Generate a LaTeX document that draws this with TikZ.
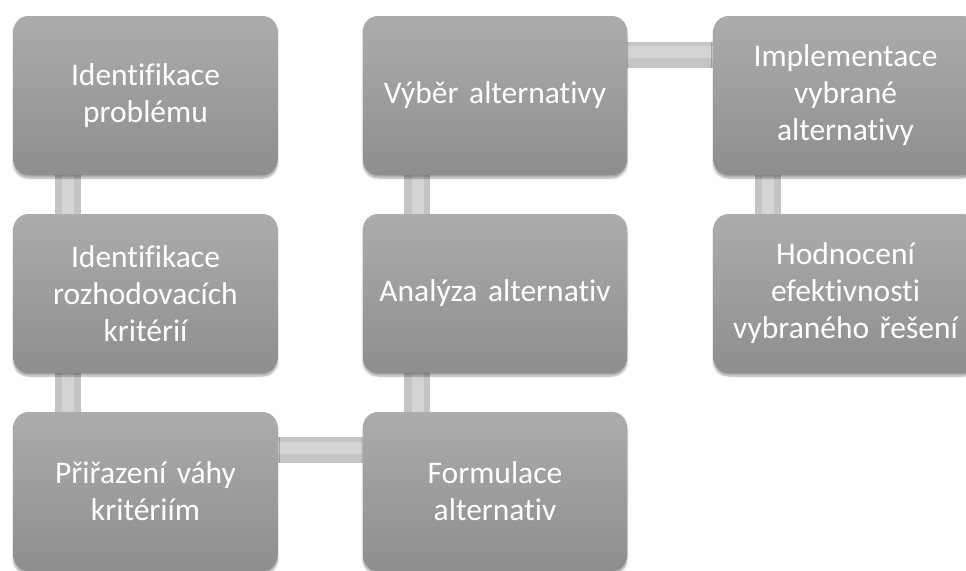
\documentclass[tikz,border=0pt]{standalone}
\usepackage{fontspec}
\setmainfont{Carlito}[Ligatures=CommonOff]
\usetikzlibrary{shadows.blur,backgrounds}
\definecolor{boxtop}{RGB}{172,172,172}
\definecolor{boxbot}{RGB}{142,142,142}
\definecolor{barfill}{RGB}{196,196,196}
\definecolor{barlight}{RGB}{212,212,212}

\begin{document}
\begin{tikzpicture}[x=1pt,y=-1pt,
  stage/.style={rounded corners=15pt,top color=boxtop,bottom color=boxbot,
    minimum width=264pt,minimum height=159pt,text width=250pt,align=center,
    text=white,font=\fontsize{31.5}{37}\selectfont,
    blur shadow={shadow xshift=0pt,shadow yshift=-3pt,shadow blur steps=6,shadow opacity=35}},
  bar/.style={line width=26pt,barfill},
  barhi/.style={line width=12pt,barlight}]
\clip (0,0) rectangle (966,570);
% left column
\node[stage] (ident) at (145.5,95.5) {Identifikace\\problému};
\node[stage] (krit) at (145.5,293.5) {Identifikace\\rozhodovacích\\kritérií};
\node[stage] (vahy) at (145.5,491.5) {Přiřazení váhy\\kritériím};
% middle column
\node[stage] (form) at (495,491.5) {Formulace\\alternativ};
\node[stage] (anal) at (495,293.5) {Analýza alternativ};
\node[stage] (vyber) at (495,95.5) {Výběr alternativy};
% right column
\node[stage] (impl) at (845.5,95.5) {Implementace\\vybrané\\alternativy};
\node[stage] (hodn) at (845.5,293.5) {Hodnocení\\efektivnosti\\vybraného řešení};
% connectors
\begin{scope}[on background layer]
\draw[bar] ([xshift=54.5pt]ident.south west) -- ([xshift=54.5pt]krit.north west);
\draw[bar] ([xshift=54.5pt]krit.south west) -- ([xshift=54.5pt]vahy.north west);
\draw[bar] ([yshift=-38.5pt]vahy.north east) -- ([yshift=-38.5pt]form.north west);
\draw[bar] ([xshift=54.5pt]form.north west) -- ([xshift=54.5pt]anal.south west);
\draw[bar] ([xshift=54.5pt]anal.north west) -- ([xshift=54.5pt]vyber.south west);
\draw[bar] ([yshift=-39pt]vyber.north east) -- ([yshift=-39pt]impl.north west);
\draw[bar] ([xshift=54.5pt]impl.south west) -- ([xshift=54.5pt]hodn.north west);
\draw[barhi] ([xshift=55pt]ident.south west) -- ([xshift=55pt]krit.north west);
\draw[barhi] ([xshift=55pt]krit.south west) -- ([xshift=55pt]vahy.north west);
\draw[barhi] ([yshift=-36pt]vahy.north east) -- ([yshift=-36pt]form.north west);
\draw[barhi] ([xshift=55pt]form.north west) -- ([xshift=55pt]anal.south west);
\draw[barhi] ([xshift=55pt]anal.north west) -- ([xshift=55pt]vyber.south west);
\draw[barhi] ([yshift=-36.5pt]vyber.north east) -- ([yshift=-36.5pt]impl.north west);
\draw[barhi] ([xshift=55pt]impl.south west) -- ([xshift=55pt]hodn.north west);
\end{scope}
\end{tikzpicture}
\end{document}
